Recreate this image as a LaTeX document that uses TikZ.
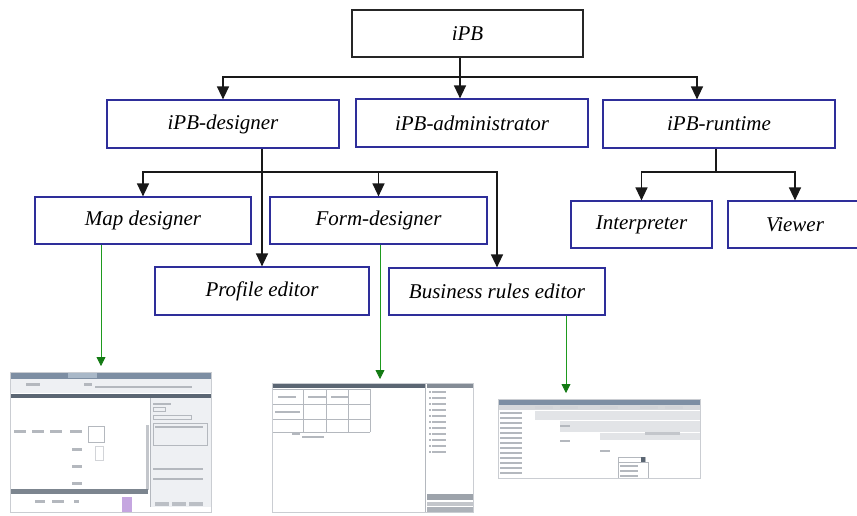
\documentclass[tikz,border=0pt]{standalone}
\usepackage{fontspec}
\setmainfont{Liberation Serif}
\usetikzlibrary{arrows.meta,calc}
\definecolor{navy}{HTML}{2E2E9A}
\definecolor{gline}{HTML}{1E9A1E}
\definecolor{gtip}{HTML}{137A13}
\definecolor{sbar}{HTML}{5B6673}
\definecolor{sblue}{HTML}{7D8EA3}
\definecolor{stab}{HTML}{A9B8C8}
\definecolor{spanel}{HTML}{EEF0F3}
\definecolor{stext}{HTML}{B4B8BE}
\begin{document}
\begin{tikzpicture}[x=1pt,y=-1pt,
  lbl/.style={font=\fontsize{21}{24}\selectfont\itshape, inner sep=0pt},
  topbox/.style={lbl, draw=black!85, line width=1.1pt, minimum width=231pt, minimum height=47pt},
  bbox/.style={lbl, draw=navy, line width=1.2pt},
  ln/.style={line width=1.3pt, black!90},
  arr/.style={ln, -{Triangle[length=13pt,width=12pt]}},
  garr/.style={gline, line width=0.8pt, -{Triangle[length=9pt,width=9pt,fill=gtip,color=gtip]}},
  txt/.style={fill=stext}]
\useasboundingbox (0,0) rectangle (857,515);
\clip (0,0) rectangle (857,515);

% ---------- nodes ----------
\node[topbox] (ipb) at (467.5,33.5) {iPB};
\node[bbox, minimum width=232pt, minimum height=48pt] (des) at (223,124) {iPB-designer};
\node[bbox, minimum width=232pt, minimum height=48pt] (adm) at (472,123) {iPB-administrator};
\node[bbox, minimum width=232pt, minimum height=48pt] (rt) at (719,124) {iPB-runtime};
\node[bbox, minimum width=216pt, minimum height=47pt] (map) at (143,220.5) {Map designer};
\node[bbox, minimum width=217pt, minimum height=47pt] (form) at (378.5,220.5) {Form-designer};
\node[bbox, minimum width=214pt, minimum height=48pt] (prof) at (262,291) {Profile editor};
\node[bbox, minimum width=216pt, minimum height=47pt] (brl) at (497,291.5) {Business rules editor};
\node[bbox, minimum width=141pt, minimum height=47pt] (int) at (641.5,224.5) {Interpreter};
\node[bbox, minimum width=134pt, minimum height=47pt] (view) at (795,224.5) {Viewer};

% ---------- connectors ----------
\coordinate (tbus) at (460,77);
\draw[ln] (ipb.south -| tbus) -- (tbus);
\draw[arr] (tbus) -- (tbus |- adm.north);
\draw[arr] (tbus) -| (des.north);
\draw[arr] (tbus) -| ($(rt.north)+(-22,0)$);

\coordinate (dbus) at (262,172);
\draw[arr] (des.south -| prof.north) -- (prof.north);
\draw[arr] (dbus) -| (map.north);
\draw[arr] (dbus) -| (brl.north);
\draw[arr] (form.north |- dbus) -- (form.north);

\coordinate (rbus) at (716,172);
\draw[ln] (rt.south -| rbus) -- (rbus);
\draw[arr] (rbus) -| (int.north);
\draw[arr] (rbus) -| (view.north);

% ---------- screenshot 1 ----------
\fill[white] (10,372) rectangle (211,512);
\fill[sblue] (10,372) rectangle (211,379);
\fill[stab] (68,372) rectangle (97,378);
\fill[spanel] (10,379) rectangle (211,393);
\fill[txt] (26,383) rectangle (40,386);
\fill[txt] (84,383) rectangle (92,386);
\fill[txt] (95,386) rectangle (192,388);
\fill[sbar] (10,394) rectangle (211,398);
\fill[spanel] (150,398) rectangle (211,507);
\draw[stext] (150,398) -- (150,507);
\foreach \x in {14,32,50,70}{\fill[txt] (\x,430) rectangle ++(12,3);}
\draw[stext] (88,426) rectangle (104,442);
\foreach \y in {448,465,482}{\fill[txt] (72,\y) rectangle ++(10,3);}
\draw[stext!60] (95,446) rectangle (103,460);
\fill[stext!80] (146,425) rectangle (149,490);
\fill[sbar!80] (10,489) rectangle (148,494);
\fill[txt] (35,500) rectangle ++(10,3);
\fill[txt] (52,500) rectangle ++(12,3);
\fill[txt] (74,500) rectangle ++(5,3);
\fill[blue!30!violet!35] (122,497) rectangle (132,512);
\fill[txt] (153,403) rectangle ++(18,2);
\draw[stext] (153,407) rectangle ++(12,4);
\draw[stext] (153,415) rectangle ++(38,4);
\draw[stext] (153,423) rectangle ++(54,22);
\fill[txt] (155,426) rectangle ++(48,2);
\fill[txt] (153,468) rectangle ++(50,2);
\fill[txt] (153,478) rectangle ++(50,2);
\foreach \x in {155,172,189}{\fill[stext!90] (\x,502) rectangle ++(14,4);}
\draw[stext!70] (10,372) rectangle (211,512);

% ---------- screenshot 2 ----------
\fill[white] (272,383) rectangle (473,512);
\fill[sbar] (272,383) rectangle (425,388);
\fill[sbar!75] (427,383) rectangle (473,388);
\draw[stext] (425,383) -- (425,512);
\foreach \y in {389,404,419,432}{\draw[stext] (272,\y) -- (370,\y);}
\foreach \x in {272,303,326,348,370}{\draw[stext] (\x,389) -- (\x,432);}
\foreach \x in {278,308,331}{\fill[txt] (\x,396) rectangle ++(18,2);}
\fill[txt] (275,411) rectangle ++(25,2);
\fill[txt] (292,432) rectangle ++(8,3);
\fill[txt] (302,436) rectangle ++(22,2);
\foreach \y in {391,397,...,451}{\fill[stext] (429,\y) rectangle ++(2,2); \fill[txt] (432,\y) rectangle ++(14,2);}
\fill[sbar!60] (427,494) rectangle (473,500);
\fill[stext!80] (427,502) rectangle (473,506);
\fill[sbar!50] (427,507) rectangle (473,512);
\draw[stext!70] (272,383) rectangle (473,512);

% ---------- screenshot 3 ----------
\fill[white] (498,399) rectangle (700,478);
\fill[sblue] (498,399) rectangle (700,405);
\fill[spanel!90!black] (498,405) rectangle (700,410);
\foreach \x in {535,560,600,640,665}{\fill[stext!60] (\x,406) rectangle ++(18,3);}
\foreach \y in {412,417,...,472}{\fill[txt] (500,\y) rectangle ++(22,2);}
\fill[spanel!95!black] (535,411) rectangle (700,420);
\fill[spanel!95!black] (560,421) rectangle (700,432);
\fill[spanel!95!black] (600,433) rectangle (700,440);
\fill[stext!80] (645,432) rectangle (680,435);
\fill[txt] (560,425) rectangle ++(10,2);
\fill[txt] (560,440) rectangle ++(10,2);
\fill[txt] (600,450) rectangle ++(10,2);
\draw[stext] (618,457) rectangle (645,462);
\fill[sbar] (641,457) rectangle (645,462);
\draw[stext] (618,462) rectangle (648,478);
\foreach \y in {465,470,475}{\fill[txt] (620,\y) rectangle ++(18,2);}
\draw[stext!70] (498,399) rectangle (700,478);

% ---------- green links ----------
\coordinate (t1) at (101,366);
\coordinate (t2) at (380,379);
\coordinate (t3) at (566,393);
\draw[garr] (map.south -| t1) -- (t1);
\draw[garr] (form.south -| t2) -- (t2);
\draw[garr] (brl.south -| t3) -- (t3);
\end{tikzpicture}
\end{document}
